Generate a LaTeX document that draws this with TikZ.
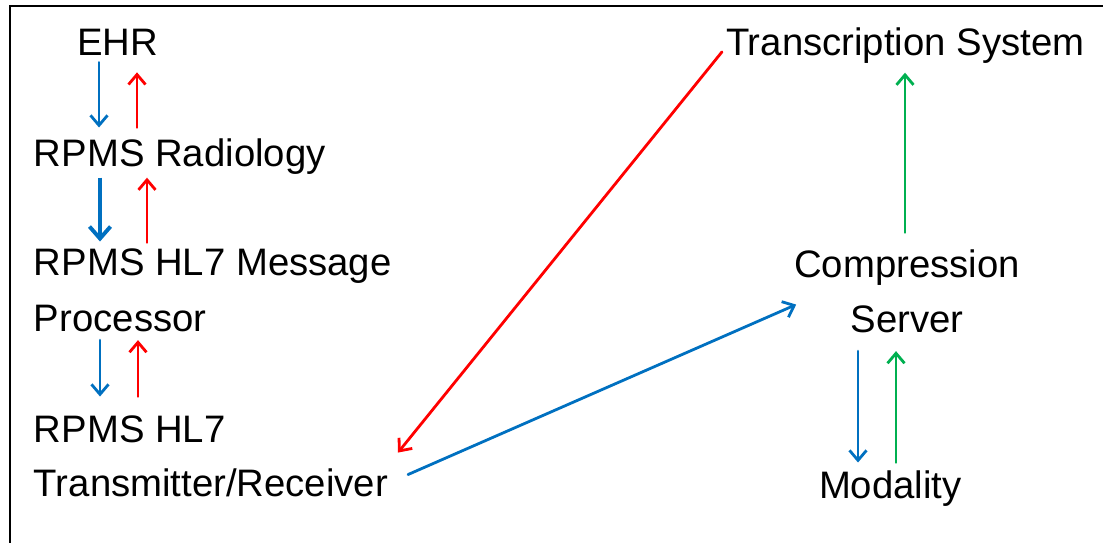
\documentclass[tikz,border=0pt]{standalone}
\usepackage{fontspec}
\setmainfont{Liberation Sans}
\usetikzlibrary{arrows.meta}
\definecolor{flowblue}{HTML}{0070C0}
\definecolor{flowred}{HTML}{FF0000}
\definecolor{flowgreen}{HTML}{00B050}
\begin{document}
\begin{tikzpicture}[x=1pt,y=-1pt,
        lbl/.style = {inner sep=0pt, outer sep=0pt, anchor=north west, font=\fontsize{38.3}{56}\selectfont},
        flow/.style = {line width=2.8pt, line cap=round, -{Straight Barb[length=10pt,width=17pt]}},
        bigflow/.style = {line width=3.9pt, -{Straight Barb[length=12pt,width=21pt]}}]
        \useasboundingbox (0,0) rectangle (1103,543);
        \draw[line width=2.8pt] (10,543) -- (10,6) -- (1103,6);
        % left column
        \node[lbl] (ehr) at (77,29) {EHR};
        \node[lbl] (radio) at (34,139) {RPMS Radiology};
        \node[lbl, align=left] (msg) at (34,249) {RPMS HL7 Message\\Processor};
        \node[lbl, align=left, font=\fontsize{38.3}{54}\selectfont] (trx) at (34,416) {RPMS HL7\\Transmitter/Receiver};
        % right column
        \node[lbl] (trans) at (726,28) {Transcription System};
        \node[lbl, anchor=north, align=center, font=\fontsize{38.3}{55}\selectfont] (comp) at (907,250) {Compression\\Server};
        \node[lbl] (mod) at (819,471) {Modality};
        \draw[flow, flowblue, shorten <=7pt, shorten >=11.5pt] (99,0 |- ehr.south) -> (99,0 |- radio.north);
        \draw[flow, flowred, shorten <=11.5pt, shorten >=17pt] (137,0 |- radio.north) -> (137,0 |- ehr.south);
        \draw[bigflow, flowblue, shorten <=3pt, shorten >=7.5pt] (100,0 |- radio.south) -> (100,0 |- msg.north);
        \draw[flow, flowred, shorten <=6.5pt, shorten >=3pt] (147,0 |- msg.north) -> (147,0 |- radio.south);
        \draw[flow, flowblue, shorten <=8pt, shorten >=19.5pt] (100,0 |- msg.south) -> (100,0 |- trx.north);
        \draw[flow, flowred, shorten <=19.5pt, shorten >=8pt] (138,0 |- trx.north) -> (138,0 |- msg.south);
        \draw[flow, flowgreen, shorten <=17.5pt, shorten >=9pt] (905,0 |- comp.north) -> (905,0 |- trans.south);
        \draw[flow, flowblue, shorten <=18pt, shorten >=8.5pt] (858,0 |- comp.south) -> (858,0 |- mod.north);
        \draw[flow, flowgreen, shorten <=8.5pt, shorten >=18pt] (896,0 |- mod.north) -> (896,0 |- comp.south);
        \draw[flow, flowred] ([shift={(-4,6)}]trans.west) -> ([shift={(10,-4)}]trx.east);
        \draw[flow, flowblue] ([shift={(20,18)}]trx.east) -> ([shift={(2,13)}]comp.west);
        \end{tikzpicture}
\end{document}
